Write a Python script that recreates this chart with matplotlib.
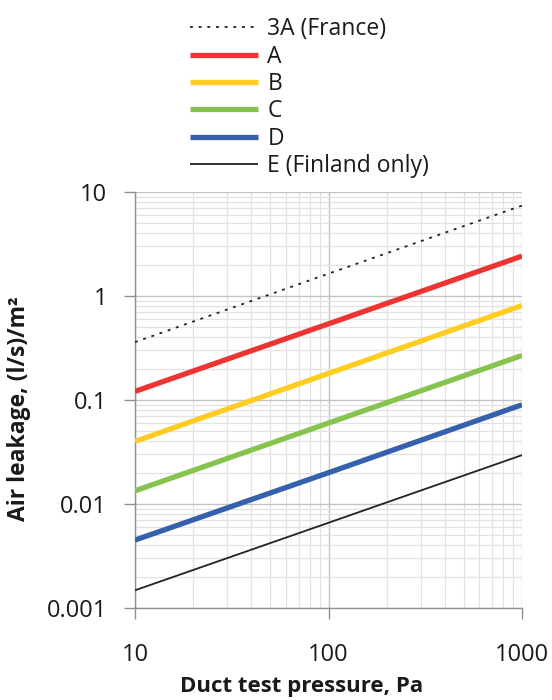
import matplotlib
matplotlib.use("Agg")
import matplotlib.pyplot as plt
from matplotlib.ticker import LogLocator, FixedLocator, FuncFormatter, NullFormatter

plt.rcParams['font.family'] = ['Open Sans', 'DejaVu Sans']

# Data
pressure = [10, 100, 1000]
class_3A = [0.36, 1.64, 7.4]
class_A = [0.121, 0.54, 2.42]
class_B = [0.040, 0.18, 0.81]
class_C = [0.0134, 0.060, 0.268]
class_D = [0.0045, 0.020, 0.090]
class_E = [0.00148, 0.0066, 0.0295]

labels = ["3A (France)", "A", "B", "C", "D", "E (Finland only)"]
series = [class_3A, class_A, class_B, class_C, class_D, class_E]
colors = ["#222222", "#EE3333", "#FFCC22", "#86C34F", "#3560AE", "#222222"]
widths = [1.3, 3.8, 3.8, 3.8, 3.8, 1.3]
styles = [(0, (1.6, 3.2)), "-", "-", "-", "-", "-"]

x_ticks = [10, 100, 1000]
y_ticks = [0.001, 0.01, 0.1, 1, 10]

fig = plt.figure(figsize=(5.52, 7.0), dpi=100)
ax = fig.add_axes([135/552, 1-608/700, (522-135)/552, (608-192)/700])
ax.set_xscale('log')
ax.set_yscale('log')
ax.set_xlim(10, 1000)
ax.set_ylim(0.001, 10)

handles = []
for y, c, w, s, lab in zip(series, colors, widths, styles, labels):
    h, = ax.plot(pressure, y, color=c, lw=w, linestyle=s, label=lab,
                 solid_capstyle='butt', zorder=3)
    handles.append(h)

ax.xaxis.set_major_locator(FixedLocator(x_ticks))
ax.yaxis.set_major_locator(FixedLocator(y_ticks))
ax.xaxis.set_minor_locator(LogLocator(base=10, subs=range(2, 10)))
ax.yaxis.set_minor_locator(LogLocator(base=10, subs=range(2, 10)))
fmt = FuncFormatter(lambda v, p: f"{v:g}")
ax.xaxis.set_major_formatter(fmt)
ax.yaxis.set_major_formatter(fmt)
ax.xaxis.set_minor_formatter(NullFormatter())
ax.yaxis.set_minor_formatter(NullFormatter())

ax.grid(True, which='major', color='#c4c4c4', lw=1.0, zorder=0)
ax.grid(True, which='minor', color='#e2e2e2', lw=0.9, zorder=0)
ax.set_axisbelow(True)

for sp in ['top', 'right']:
    ax.spines[sp].set_visible(False)
for sp in ['left', 'bottom']:
    ax.spines[sp].set_color('#909090')
    ax.spines[sp].set_linewidth(1.0)

ax.tick_params(which='major', direction='out', length=8, width=1.0, color='#909090',
               labelsize=17, labelcolor='#1a1a1a')
ax.tick_params(axis='x', which='major', pad=17)
ax.tick_params(axis='y', which='major', pad=12)
ax.tick_params(which='minor', length=0)

ax.set_xlabel("Duct test pressure, Pa", fontsize=16, fontweight='bold',
              color='#1a1a1a')
ax.set_ylabel("Air leakage, (l/s)/m²", fontsize=16.5, fontweight='bold',
              color='#1a1a1a')
ax.xaxis.set_label_coords((302 - 135) / 387, (608 - 676) / 416)
ax.yaxis.set_label_coords((31 - 135) / 387, (608 - 409) / 416)

fig.legend(handles=handles, labels=labels, loc='upper left',
           bbox_to_anchor=(181/552, 1 - 8/700), frameon=False,
           fontsize=16.5, handlelength=2.97, handletextpad=0.4,
           labelspacing=0.15, borderaxespad=0, labelcolor='#1a1a1a')

fig.savefig("out.png", dpi=100)
